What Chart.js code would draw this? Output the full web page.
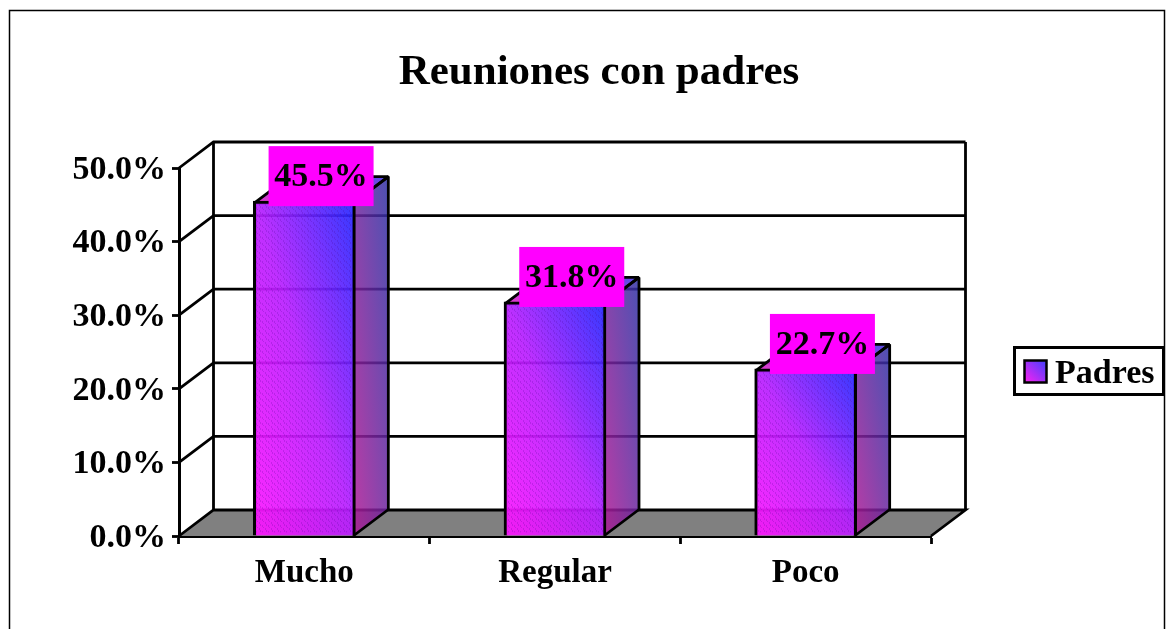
<!DOCTYPE html>
<html><head><meta charset="utf-8">
<style>html,body{margin:0;padding:0;background:#fff}canvas{display:block}#w{position:relative;width:1174px;height:629px}</style>
<script src="https://cdn.jsdelivr.net/npm/chart.js@4/dist/chart.umd.min.js"></script>
</head><body><div id="w"><canvas id="c" width="1174" height="629"></canvas></div>
<script>
const categories = ["Mucho", "Regular", "Poco"];
const seriesName = "Padres";
const padresValues = [45.5, 31.8, 22.7];
const yTicks = [0, 10, 20, 30, 40, 50];
const chartTitle = "Reuniones con padres";

const SERIF = '"Liberation Serif","Times New Roman",serif';
const DX = 34.5, DY = -26, LW = 2.8;
const LEG = {left:1013, top:346, width:152, height:50};

function hatch(ctx){
  const p = document.createElement('canvas'); p.width = 6; p.height = 6;
  const g = p.getContext('2d');
  g.fillStyle = 'rgba(70,0,140,0.2)';
  g.fillRect(1,0,1,2); g.fillRect(2,2,1,2); g.fillRect(4,3,1,2); g.fillRect(5,5,1,1);
  return ctx.createPattern(p,'repeat');
}
function boxGrad(ctx,l,t,w,h,a,b,mid){
  const k = 2*w*h/(w*w+h*h);
  const g = ctx.createLinearGradient(l,t+h,l+h*k,t+h-w*k);
  g.addColorStop(0,a);
  if(mid) g.addColorStop(0.5,mid);
  g.addColorStop(1,b); return g;
}
function poly(ctx,pts,fill,lw){
  ctx.beginPath(); pts.forEach((p,i)=> i?ctx.lineTo(p[0],p[1]):ctx.moveTo(p[0],p[1])); ctx.closePath();
  if(fill){ctx.fillStyle=fill;ctx.fill();}
  if(lw){ctx.lineWidth=lw;ctx.strokeStyle='#000';ctx.lineJoin='bevel';ctx.stroke();}
}
const scene = {
  id:'scene',
  beforeLayout(chart){
    const l=chart.legend;
    if(!l._wrapped){
      const f=l.fit;
      l.fit=function(){ f.call(this); this.width=234; };
      l._wrapped=true;
    }
  },
  afterLayout(chart){
    const l=chart.legend;
    l.left=LEG.left; l.right=LEG.left+LEG.width; l.width=LEG.width;
    l.top=LEG.top+3; l.bottom=LEG.top+LEG.height+3; l.height=LEG.height;
  },
  beforeDraw(chart){
    const ctx=chart.ctx;
    ctx.save();
    ctx.fillStyle='#fff'; ctx.fillRect(0,0,chart.width,chart.height);
    ctx.strokeStyle='#000'; ctx.lineWidth=1.5;
    ctx.strokeRect(9.5,10.5,1155,640);
    ctx.restore();
    chart.scales.y.getLabelItems(chart.chartArea).forEach(it=>{
      if(!it._moved){ it.textOffset+=2; it._moved=true; }
    });
  },
  beforeDatasetsDraw(chart){
    const ctx=chart.ctx, {x,y}=chart.scales;
    const L=x.left,R=x.right,B=y.getPixelForValue(0),T=y.getPixelForValue(50);
    ctx.save(); ctx.lineJoin='miter';
    poly(ctx,[[L,B],[L+DX,B+DY],[R+DX,B+DY],[R,B]],'#808080',0);
    ctx.lineCap='butt';
    ctx.strokeStyle='#000';
    ctx.lineWidth=LW;
    yTicks.forEach(v=>{
      const py=y.getPixelForValue(v);
      ctx.beginPath(); ctx.moveTo(L,py); ctx.lineTo(L+DX,py+DY); ctx.lineTo(R+DX,py+DY);
      if(v===0) ctx.lineTo(R,py);
      ctx.stroke();
    });
    ctx.beginPath(); ctx.moveTo(L+DX,T+DY); ctx.lineTo(L+DX,B+DY);
    ctx.moveTo(R+DX,T+DY); ctx.lineTo(R+DX,B+DY); ctx.stroke();
    ctx.restore();
    const meta=chart.getDatasetMeta(0);
    ctx.save();
    meta.data.forEach(b=>{
      const hw=b.width/2, l=b.x-hw+1.5, r=b.x+hw-1.5, t=b.y+1.5, bt=b.base;
      const side=[[r,t],[r+DX,t+DY],[r+DX,bt+DY],[r,bt]];
      poly(ctx,side,boxGrad(ctx,r,t+DY,DX,bt-t-DY,'rgba(175,25,150,0.85)','rgba(45,50,165,0.85)'),0);
      const top=[[l,t],[l+DX,t+DY],[r+DX,t+DY],[r,t]];
      poly(ctx,top,boxGrad(ctx,l,t+DY,r+DX-l,-DY,'rgba(225,40,200,0.92)','rgba(70,60,230,0.92)'),0);
      poly(ctx,side,null,LW); poly(ctx,top,null,LW);
    });
    ctx.restore();
  },
  afterDatasetsDraw(chart){
    const ctx=chart.ctx;
    const meta=chart.getDatasetMeta(0);
    ctx.save();
    meta.data.forEach(b=>{
      const hw=b.width/2;
      ctx.fillStyle=hatch(ctx);
      ctx.fillRect(b.x-hw+3,b.y+3,b.width-6,b.base-b.y-6);
    });
    ctx.font='bold 34px '+SERIF; ctx.textAlign='center'; ctx.textBaseline='middle';
    meta.data.forEach((b,i)=>{
      const cx=b.x+DX/2-0.5, cy=b.y-25;
      ctx.fillStyle='#ff00ff'; ctx.fillRect(cx-52.5,cy-30,105,60);
      ctx.fillStyle='#000'; ctx.fillText(padresValues[i].toFixed(1)+'%',cx,cy+1);
    });
    ctx.restore();
  },
  afterDraw(chart){
    const ctx=chart.ctx;
    ctx.save(); ctx.strokeStyle='#000'; ctx.lineWidth=3;
    ctx.strokeRect(LEG.left+1.5,LEG.top+1.5,LEG.width-3,LEG.height-3);
    const sx=LEG.left+11.5, sy=LEG.top+14.5;
    ctx.fillStyle=boxGrad(ctx,sx,sy,22,22,'#ff20f0','#4040ff');
    ctx.fillRect(sx,sy,22,22);
    ctx.lineWidth=2.5; ctx.strokeRect(sx,sy,22,22);
    ctx.restore();
  }
};
new Chart(document.getElementById('c').getContext('2d'),{
  type:'bar',
  data:{labels:categories,datasets:[{
    label:seriesName,data:padresValues,barThickness:102,borderWidth:3,borderColor:'#000',
    backgroundColor(c){
      if(!c.chart.chartArea) return '#a040ff';
      const s=c.chart.scales;
      const t=s.y.getPixelForValue(padresValues[c.dataIndex]),b=s.y.getPixelForValue(0);
      const cx=s.x.getPixelForValue(c.dataIndex);
      return boxGrad(c.chart.ctx,cx-50,t,100,b-t,'rgba(255,20,255,0.92)','rgba(35,40,255,0.92)','rgba(185,30,255,0.92)');
    }
  }]},
  options:{
    responsive:false,animation:false,
    layout:{padding:{left:33,right:9,top:0,bottom:0}},
    plugins:{
      tooltip:{enabled:false},
      title:{display:true,text:chartTitle,color:'#000',font:{family:SERIF,size:43,weight:'bold'},padding:{top:47,bottom:69.4}},
      legend:{position:'right',align:'center',
        labels:{color:'#000',font:{family:SERIF,size:34,weight:'bold'},boxWidth:14,boxHeight:14,padding:11,
          generateLabels(chart){
            return [{text:seriesName,fillStyle:'#a040ff',strokeStyle:'#000',lineWidth:0,datasetIndex:0,fontColor:'#000'}];
          }}}
    },
    scales:{
      x:{offset:true,afterFit(s){s.height=93;},
         grid:{display:true,drawOnChartArea:false,drawTicks:true,tickLength:8,tickColor:'#000',tickWidth:LW,offset:true},
         border:{display:true,color:'#000',width:3},
         ticks:{color:'#000',font:{family:SERIF,size:33,weight:'bold'},padding:10,maxRotation:0}},
      y:{min:0,max:50,afterFit(s){s.width=146;},afterBuildTicks(s){s.ticks=yTicks.map(v=>({value:v}));},
         grid:{drawOnChartArea:false,drawTicks:true,tickLength:7,tickColor:'#000',tickWidth:LW},
         border:{display:true,color:'#000',width:3},
         ticks:{color:'#000',font:{family:SERIF,size:34,weight:'bold'},padding:6,callback:v=>v.toFixed(1)+'%'}}
    }
  },
  plugins:[scene]
});
</script></body></html>
